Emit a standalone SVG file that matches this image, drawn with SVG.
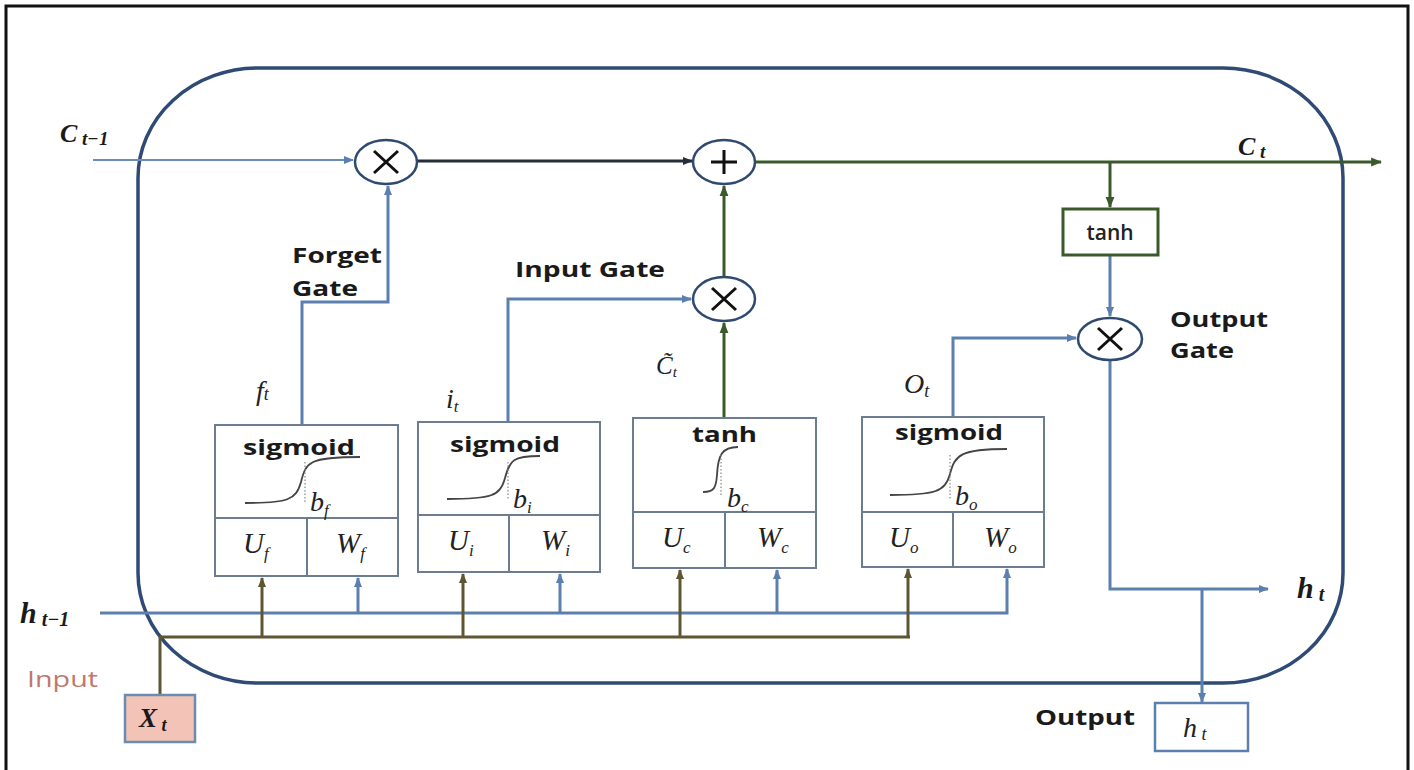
<svg xmlns="http://www.w3.org/2000/svg" width="1414" height="770" viewBox="0 0 1414 770">
<defs>
<style>
.lbl{font-family:"Open Sans","Liberation Sans",sans-serif;font-weight:700;fill:#1a1a1a}
.fn{font-family:"Open Sans","Liberation Sans",sans-serif;font-weight:700;fill:#1a1a1a;font-size:22px}
.m{font-family:"Liberation Serif",serif;font-style:italic;fill:#222}
.mb{font-family:"Liberation Serif",serif;font-style:italic;font-weight:700;fill:#1a1a1a}
.box{fill:#fff;stroke:#6c7d92;stroke-width:2}
.blue{fill:none;stroke:#5b80b0;stroke-width:3}
.green{fill:none;stroke:#3b5a2c;stroke-width:3}
.olive{fill:none;stroke:#5e5632;stroke-width:3}
.dark{fill:none;stroke:#262e3a;stroke-width:3}
.op{fill:#fff;stroke:#2f4a70;stroke-width:2.5}
.sym{stroke:#111;stroke-width:3;fill:none}
.curve{fill:none;stroke:#444;stroke-width:1.8}
.dot{stroke:#888;stroke-width:1.2;stroke-dasharray:1.5 2}
</style>
<marker id="ab" viewBox="0 0 10 10" refX="9" refY="5" markerWidth="10" markerHeight="10" markerUnits="userSpaceOnUse" orient="auto"><path d="M0,1 L10,5 L0,9 Z" fill="#5b80b0"/></marker>
<marker id="ag" viewBox="0 0 10 10" refX="9" refY="5" markerWidth="11" markerHeight="11" markerUnits="userSpaceOnUse" orient="auto"><path d="M0,1 L10,5 L0,9 Z" fill="#3b5a2c"/></marker>
<marker id="ao" viewBox="0 0 10 10" refX="9" refY="5" markerWidth="10" markerHeight="10" markerUnits="userSpaceOnUse" orient="auto"><path d="M0,1 L10,5 L0,9 Z" fill="#5e5632"/></marker>
<marker id="ad" viewBox="0 0 10 10" refX="9" refY="5" markerWidth="10" markerHeight="10" markerUnits="userSpaceOnUse" orient="auto"><path d="M0,1 L10,5 L0,9 Z" fill="#262e3a"/></marker>
</defs>
<rect width="1414" height="770" fill="#fff"/>
<path d="M6,772 V6 H1408 V772" fill="none" stroke="#111" stroke-width="3"/>

<g id="cell">
<rect x="138" y="68" width="1205" height="615" rx="120" ry="110" fill="none" stroke="#2f4a74" stroke-width="3.5"/>
</g>

<g id="connectors">
<line x1="93" y1="160" x2="353" y2="160" stroke="#6b8cb8" stroke-width="2.2" marker-end="url(#ab)"/>
<line x1="417" y1="161" x2="692" y2="161" class="dark" marker-end="url(#ad)"/>
<line x1="755" y1="162" x2="1381" y2="162" class="green" marker-end="url(#ag)"/>
<line x1="1110" y1="162" x2="1110" y2="207" class="green" marker-end="url(#ag)"/>
<line x1="724" y1="277" x2="724" y2="186" class="green" marker-end="url(#ag)"/>
<line x1="724" y1="418" x2="724" y2="323" class="green" marker-end="url(#ag)"/>
<polyline points="302,425 302,302 388,302 388,186" class="blue" marker-end="url(#ab)"/>
<polyline points="508,422 508,299 691,299" class="blue" marker-end="url(#ab)"/>
<line x1="1110" y1="255" x2="1110" y2="316" class="blue" marker-end="url(#ab)"/>
<polyline points="953,417 953,338 1076,338" class="blue" marker-end="url(#ab)"/>
<polyline points="1110,360 1110,589 1268,589" class="blue" marker-end="url(#ab)"/>
<line x1="1202" y1="589" x2="1202" y2="702" class="blue" marker-end="url(#ab)"/>
<polyline points="100,613 1007,613 1007,569" class="blue" marker-end="url(#ab)"/>
<line x1="358" y1="613" x2="358" y2="578" class="blue" marker-end="url(#ab)"/>
<line x1="560" y1="613" x2="560" y2="574" class="blue" marker-end="url(#ab)"/>
<line x1="777" y1="613" x2="777" y2="570" class="blue" marker-end="url(#ab)"/>
<polyline points="160,695 160,637 910,637" class="olive"/>
<line x1="262" y1="637" x2="262" y2="578" class="olive" marker-end="url(#ao)"/>
<line x1="463" y1="637" x2="463" y2="574" class="olive" marker-end="url(#ao)"/>
<line x1="680" y1="637" x2="680" y2="570" class="olive" marker-end="url(#ao)"/>
<line x1="908" y1="637" x2="908" y2="569" class="olive" marker-end="url(#ao)"/>
</g>

<g id="mul-forget">
<ellipse cx="386" cy="162" rx="31" ry="22" class="op"/>
<path d="M374,151 L398,173 M398,151 L374,173" class="sym"/>
</g>
<g id="add-cell">
<ellipse cx="724" cy="162" rx="31" ry="22" class="op"/>
<path d="M711,162 H737 M724,150 V174" class="sym"/>
</g>
<g id="mul-input">
<ellipse cx="724" cy="299" rx="31" ry="22" class="op"/>
<path d="M712,288 L736,310 M736,288 L712,310" class="sym"/>
</g>
<g id="mul-output">
<ellipse cx="1110" cy="339" rx="32" ry="21" class="op"/>
<path d="M1098,328 L1122,350 M1122,328 L1098,350" class="sym"/>
</g>

<g id="tanh-out">
<rect x="1063" y="209" width="95" height="46" fill="#fff" stroke="#3b5a2c" stroke-width="3"/>
<text x="1110" y="240" text-anchor="middle" style="font-family:'Open Sans','Liberation Sans',sans-serif;font-size:21px;fill:#222;font-weight:600">tanh</text>
</g>

<g id="forget-box">
<rect x="215" y="425" width="183" height="151" class="box"/>
<path d="M215,518 H398 M307,518 V576" class="box"/>
<text x="243" y="455" class="fn" textLength="112" lengthAdjust="spacingAndGlyphs">sigmoid</text>
<path d="M245,503 C288,503 296,500 301,482 C306,462 309,457 360,457" class="curve"/>
<line x1="305" y1="462" x2="305" y2="502" class="dot"/>
<text x="310" y="511" class="m" font-size="28">b<tspan font-size="17" dy="5">f</tspan></text>
<text x="243" y="553" class="m" font-size="29">U<tspan font-size="17" dy="6">f</tspan></text>
<text x="336" y="553" class="m" font-size="29">W<tspan font-size="17" dy="6">f</tspan></text>
</g>

<g id="input-box">
<rect x="418" y="422" width="182" height="150" class="box"/>
<path d="M418,515 H600 M509,515 V572" class="box"/>
<text x="450" y="452" class="fn" textLength="110" lengthAdjust="spacingAndGlyphs">sigmoid</text>
<path d="M447,499 C492,499 500,496 505,478 C510,460 513,456 540,456" class="curve"/>
<line x1="508" y1="462" x2="508" y2="500" class="dot"/>
<text x="513" y="508" class="m" font-size="28">b<tspan font-size="17" dy="5">i</tspan></text>
<text x="448" y="550" class="m" font-size="29">U<tspan font-size="17" dy="6">i</tspan></text>
<text x="541" y="550" class="m" font-size="29">W<tspan font-size="17" dy="6">i</tspan></text>
</g>

<g id="candidate-box">
<rect x="633" y="418" width="183" height="150" class="box"/>
<path d="M633,512 H816 M725,512 V568" class="box"/>
<text x="692" y="442" class="fn" textLength="65" lengthAdjust="spacingAndGlyphs">tanh</text>
<path d="M703,492 C714,492 716,488 717,475 C718,455 722,447 738,447" class="curve"/>
<line x1="721" y1="455" x2="721" y2="497" class="dot"/>
<text x="727" y="507" class="m" font-size="28">b<tspan font-size="17" dy="5">c</tspan></text>
<text x="662" y="547" class="m" font-size="29">U<tspan font-size="17" dy="6">c</tspan></text>
<text x="757" y="547" class="m" font-size="29">W<tspan font-size="17" dy="6">c</tspan></text>
</g>

<g id="output-box">
<rect x="862" y="417" width="182" height="150" class="box"/>
<path d="M862,512 H1044 M953,512 V567" class="box"/>
<text x="895" y="440" class="fn" textLength="108" lengthAdjust="spacingAndGlyphs">sigmoid</text>
<path d="M890,495 C935,495 945,492 950,474 C955,455 960,449 1007,449" class="curve"/>
<line x1="950" y1="455" x2="950" y2="500" class="dot"/>
<text x="955" y="505" class="m" font-size="28">b<tspan font-size="17" dy="5">o</tspan></text>
<text x="889" y="547" class="m" font-size="29">U<tspan font-size="17" dy="6">o</tspan></text>
<text x="984" y="547" class="m" font-size="29">W<tspan font-size="17" dy="6">o</tspan></text>
</g>

<g id="input-x">
<rect x="125" y="695" width="70" height="47" fill="#f2c3b6" stroke="#6a8cb0" stroke-width="2.5"/>
<text x="139" y="727" class="mb" font-size="27">X<tspan font-size="18" dy="4"> t</tspan></text>
</g>

<g id="output-h">
<rect x="1155" y="703" width="93" height="48" fill="#fff" stroke="#5b80b0" stroke-width="2.5"/>
<text x="1183" y="737" class="m" font-size="28">h<tspan font-size="18" dy="3"> t</tspan></text>
</g>

<g id="labels">
<text x="60" y="142" class="mb" font-size="26">C<tspan font-size="19" dy="3"> t−1</tspan></text>
<text x="1238" y="155" class="mb" font-size="26">C<tspan font-size="19" dy="3"> t</tspan></text>
<text x="20" y="623" class="mb" font-size="30">h<tspan font-size="20" dy="3"> t−1</tspan></text>
<text x="1297" y="598" class="mb" font-size="30">h<tspan font-size="20" dy="3"> t</tspan></text>
<text x="27" y="687" style="font-family:'Open Sans','Liberation Sans',sans-serif;font-size:21px;fill:#c0786c" textLength="71" lengthAdjust="spacingAndGlyphs">Input</text>
<text x="292" y="263" class="lbl" font-size="22" textLength="90" lengthAdjust="spacingAndGlyphs">Forget</text>
<text x="292" y="296" class="lbl" font-size="22" textLength="66" lengthAdjust="spacingAndGlyphs">Gate</text>
<text x="515" y="277" class="lbl" font-size="22" textLength="150" lengthAdjust="spacingAndGlyphs">Input Gate</text>
<text x="1170" y="327" class="lbl" font-size="22" textLength="98" lengthAdjust="spacingAndGlyphs">Output</text>
<text x="1170" y="358" class="lbl" font-size="22" textLength="64" lengthAdjust="spacingAndGlyphs">Gate</text>
<text x="1035" y="725" class="lbl" font-size="22" textLength="100" lengthAdjust="spacingAndGlyphs">Output</text>
<text x="256" y="400" class="m" font-size="28">f<tspan font-size="18" dy="0">t</tspan></text>
<text x="446" y="408" class="m" font-size="28">i<tspan font-size="17" dy="4">t</tspan></text>
<text x="656" y="374" class="m" font-size="25">C̃<tspan font-size="15" dy="3">t</tspan></text>
<text x="904" y="393" class="m" font-size="28">O<tspan font-size="18" dy="4">t</tspan></text>
</g>
</svg>
